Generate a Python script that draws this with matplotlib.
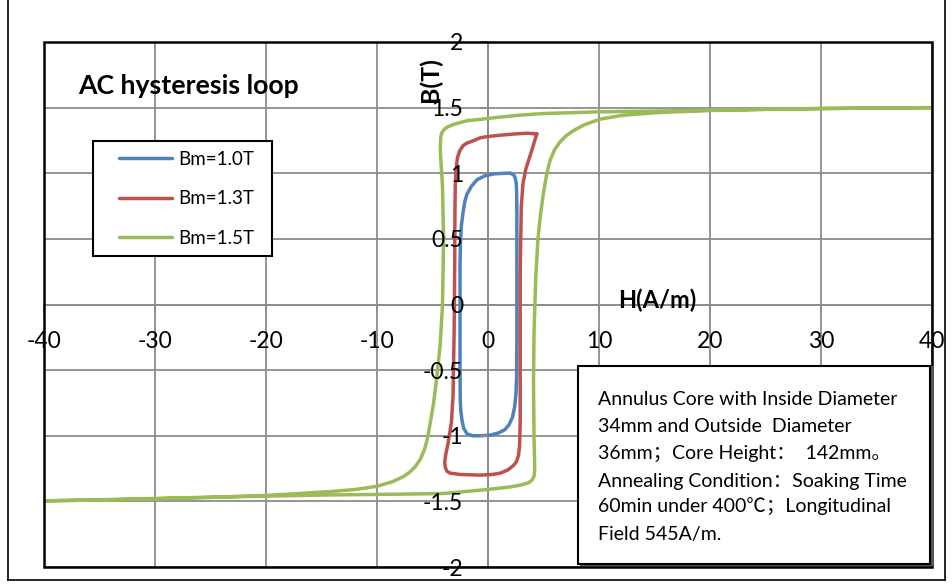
import matplotlib
matplotlib.use("Agg")
import matplotlib.pyplot as plt
from matplotlib.patches import Rectangle
from matplotlib.lines import Line2D

plt.rcParams['font.family'] = ['Lato', 'Noto Sans CJK SC', 'DejaVu Sans']
plt.rcParams['axes.unicode_minus'] = False

# ---------------- data ----------------
x_ticks = [-40, -30, -20, -10, 0, 10, 20, 30, 40]
x_tick_labels = ['-40', '-30', '-20', '-10', '0', '10', '20', '30', '40']
y_ticks = [-2, -1.5, -1, -0.5, 0, 0.5, 1, 1.5, 2]
y_tick_labels = ['-2', '-1.5', '-1', '-0.5', '0', '0.5', '1', '1.5', '2']

series_names = ['Bm=1.0T', 'Bm=1.3T', 'Bm=1.5T']
series_colors = ['#4F81BD', '#C0504D', '#9BBB59']

h_10 = [2.0, 1.5, 0.5, -0.3, -1.0, -1.5, -1.9, -2.1, -2.25, -2.4, -2.48, -2.52, -2.52, -2.52,
        -2.5, -2.45, -2.35, -2.2, -1.9, -1.4, -0.6, 0.2, 0.9, 1.5, 1.9, 2.2, 2.4, 2.52,
        2.58, 2.6, 2.6, 2.6, 2.58, 2.55, 2.45, 2.3, 2.0]
b_10 = [1.0, 1.0, 0.995, 0.98, 0.95, 0.9, 0.84, 0.78, 0.7, 0.6, 0.48, 0.3, -0.1, -0.5,
        -0.72, -0.81, -0.88, -0.94, -0.985, -1.0, -1.0, -0.995, -0.98, -0.955, -0.915, -0.86, -0.78, -0.68,
        -0.55, -0.3, 0.3, 0.7, 0.85, 0.92, 0.965, 0.99, 1.0]

h_13 = [4.4, 3.5, 2.5, 1.1, 0.0, -0.7, -1.4, -1.9, -2.25, -2.55, -2.75, -2.88, -2.95, -2.98,
        -3.0, -3.05, -3.15, -3.3, -3.6, -3.8, -3.9, -3.85, -3.7, -3.4, -2.5, -0.7, 0.4, 1.1,
        1.8, 2.25, 2.55, 2.75, 2.85, 2.9, 2.9, 2.9, 3.0, 3.15, 3.4, 3.7, 4.0, 4.25, 4.4]
b_13 = [1.30, 1.305, 1.30, 1.29, 1.28, 1.27, 1.245, 1.23, 1.21, 1.17, 1.12, 1.03, 0.9, 0.7,
        0.3, -0.2, -0.7, -0.9, -1.06, -1.14, -1.2, -1.24, -1.27, -1.285, -1.295, -1.30, -1.295, -1.285,
        -1.26, -1.23, -1.2, -1.15, -1.07, -0.9, -0.5, 0.24, 0.75, 0.92, 1.03, 1.11, 1.19, 1.26, 1.30]

h_15 = [40, 35, 30, 25, 20, 15, 10, 5, 2.9, 0.8, -1.9, -3.0, -3.6, -3.95, -4.15, -4.25, -4.3,
        -4.25, -4.1, -4.0, -4.1, -4.3, -4.6, -4.9, -5.2, -5.45, -5.7, -6.1, -6.6, -7.1, -7.6,
        -8.6, -10, -12, -14.2, -17, -20, -25, -30, -35, -40,
        -35, -30, -25, -20, -15, -10, -7.9, -4.0, -0.1, 2.0, 3.0, 3.6, 3.95, 4.15, 4.2, 4.2,
        4.15, 4.1, 4.15, 4.3, 4.5, 4.75, 5.0, 5.3, 5.6, 6.0, 6.5, 7.1, 7.8, 8.7, 10.1,
        12, 14.9, 17, 20, 25, 30, 35, 40]
b_15 = [1.50, 1.497, 1.493, 1.487, 1.48, 1.474, 1.468, 1.455, 1.443, 1.425, 1.40, 1.375, 1.355,
        1.335, 1.31, 1.28, 1.2, 1.1, 0.9, 0.5, 0.0, -0.3, -0.55, -0.75, -0.9, -1.02, -1.1,
        -1.18, -1.24, -1.28, -1.31, -1.35, -1.385, -1.41, -1.425, -1.44, -1.455, -1.47, -1.48, -1.49,
        -1.496,
        -1.488, -1.478, -1.468, -1.46, -1.452, -1.447, -1.445, -1.44, -1.41, -1.39, -1.375, -1.36, -1.34,
        -1.31, -1.27, -1.2, -1.03, -0.6, -0.2, 0.2, 0.5, 0.7, 0.85, 1.0, 1.1, 1.18, 1.24,
        1.29, 1.33, 1.37, 1.412, 1.44, 1.46, 1.468, 1.478, 1.487, 1.493, 1.497, 1.50]

series_h = [h_10, h_13, h_15]
series_b = [b_10, b_13, b_15]

title_text = 'AC hysteresis loop'
x_label = 'H(A/m)'
y_label = 'B(T)'
note_lines = ['Annulus Core with Inside Diameter',
              '34mm and Outside  Diameter',
              '36mm；Core Height：  142mm。',
              'Annealing Condition：Soaking Time',
              '60min under 400℃；Longitudinal',
              'Field 545A/m.']

# ---------------- figure ----------------
W, H = 952, 584
fig = plt.figure(figsize=(W / 100, H / 100), dpi=100)
fig.patch.set_facecolor('white')

def fx(px):
    return px / W

def fy(py):
    return 1 - py / H

ax = fig.add_axes([fx(44), fy(567), (932 - 44) / W, (567 - 42) / H])
ax.set_xlim(-40, 40)
ax.set_ylim(-2, 2)

grid_c = '#8C8C8C'
for xv in x_ticks:
    ax.axvline(xv, color=grid_c, lw=1.3, zorder=1)
for yv in y_ticks:
    ax.axhline(yv, color=grid_c, lw=1.3, zorder=1)

for hs, bs, c, name in zip(series_h, series_b, series_colors, series_names):
    ax.plot(hs, bs, color=c, lw=2.5, label=name, zorder=3,
            solid_joinstyle='round', solid_capstyle='round')

for side in ['top', 'right']:
    ax.spines[side].set_visible(False)
for side in ['left', 'bottom']:
    ax.spines[side].set_position(('data', 0))
    ax.spines[side].set_color(grid_c)
    ax.spines[side].set_linewidth(1.3)
    ax.spines[side].set_zorder(1.5)

ax.set_xticks(x_ticks)
ax.set_xticklabels(x_tick_labels)
ax.set_yticks(y_ticks)
ax.set_yticklabels(y_tick_labels)
ax.tick_params(axis='both', direction='out', length=6, width=1.3, color=grid_c,
               labelsize=16.5, labelcolor='black')
ax.tick_params(axis='x', pad=13)
ax.tick_params(axis='y', pad=12)
ax.xaxis.set_zorder(4)
ax.yaxis.set_zorder(4)

# plot-area frame
ax.add_patch(Rectangle((0, 0), 1, 1, transform=ax.transAxes, fill=False,
                       ec='black', lw=1.8, zorder=5, clip_on=False))

# axis titles
fig.text(fx(657.5), fy(300), x_label, fontsize=17, weight='bold', ha='center', va='center')
fig.text(fx(430), fy(80), y_label, fontsize=18, weight='bold', ha='center', va='center',
         rotation=90)

# chart title
fig.text(fx(78), fy(94), title_text, fontsize=19.2, weight='bold', ha='left', va='baseline')

# legend (frame drawn separately)
fig.patches.append(Rectangle((fx(93), fy(256)), (272 - 93) / W, (256 - 141) / H,
                             transform=fig.transFigure, fc='white', ec='black', lw=1.5, zorder=5))
leg = ax.legend(loc='upper left', bbox_to_anchor=(fx(119), fy(151)),
                bbox_transform=fig.transFigure, borderaxespad=0, fontsize=13.5,
                frameon=False, handlelength=2.85, handletextpad=0.3, labelspacing=1.2,
                borderpad=0)
fig.legends.append(ax.legend_)
ax.legend_ = None
leg.set_zorder(6)

# annotation box
fig.patches.append(Rectangle((fx(580), fy(566)), (932 - 578) / W, (566 - 366) / H,
                             transform=fig.transFigure, fc='#555555', ec='none', zorder=6))
fig.patches.append(Rectangle((fx(578), fy(564)), (930 - 578) / W, (564 - 366) / H,
                             transform=fig.transFigure, fc='white', ec='black', lw=1.5, zorder=7))
base_y = [405, 432, 459, 486.5, 513, 540]
for line, by in zip(note_lines, base_y):
    fig.text(fx(598), fy(by), line, fontsize=14, ha='left', va='baseline', zorder=8)

# outer chart border
fig.add_artist(Line2D([fx(8), fx(8)], [fy(0), fy(580)], color='black', lw=1.2))
fig.add_artist(Line2D([fx(8), fx(945)], [fy(580), fy(580)], color='black', lw=1.2))
fig.add_artist(Line2D([fx(945), fx(945)], [fy(0), fy(580)], color='black', lw=1.2))

fig.savefig('out.png', dpi=100)
